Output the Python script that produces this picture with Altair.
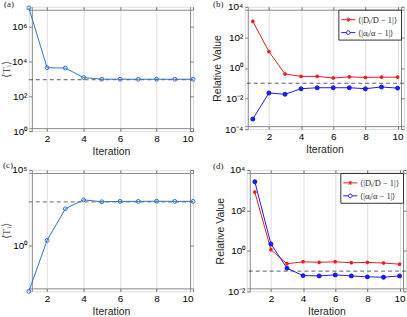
import altair as alt
import pandas as pd

# ---------------- data ----------------
iters = [1, 2, 3, 4, 5, 6, 7, 8, 9, 10]

a_T = [1.2e7, 4.4e3, 4.2e3, 1.2e3, 9.7e2, 9.6e2, 9.6e2, 9.6e2, 9.6e2, 9.6e2]
a_ref = [900]

b_D = [1100, 11.7, 0.40, 0.28, 0.28, 0.22, 0.26, 0.24, 0.25, 0.25]
b_alpha = [4.6e-4, 0.023, 0.019, 0.044, 0.051, 0.051, 0.051, 0.044, 0.057, 0.048]
b_ref = [0.1]

c_T = [1e-3, 2.3, 277, 1070, 800, 850, 850, 870, 850, 850]
c_ref = [780]

d_D = [800, 1.15, 0.23, 0.29, 0.27, 0.29, 0.26, 0.27, 0.25, 0.22]
d_alpha = [2600, 2.2, 0.14, 0.060, 0.058, 0.065, 0.058, 0.052, 0.050, 0.058]
d_ref = [0.1]

series_names = ["⟨|Dᵢ/D − 1|⟩", "⟨|αᵢ/α − 1|⟩"]
x_ticks = [2, 4, 6, 8, 10]

# ---------------- style ----------------
BLUE_A = "#3270cc"
RED = "#ee1c1c"
BLUE = "#1c1ce6"
FRAME = "#262626"
SANS = "Liberation Sans"
SERIF = "Liberation Serif"

STAR = "M-1,0L1,0M0,-1L0,1M-0.7,-0.7L0.7,0.7M-0.7,0.7L0.7,-0.7"
LEG_STAR = "M-1,0L1,0M-0.22,-0.22L0.22,0.22M-0.22,0.22L0.22,-0.22M0,-0.3L0,0.3"
LEG_CIRC = "M-1,0L-0.26,0M0.26,0L1,0M-0.26,0A0.26,0.26,0,1,1,0.26,0A0.26,0.26,0,1,1,-0.26,0"

SUP = "['⁻⁴','⁻³','⁻²','⁻¹','⁰','¹','²','³','⁴','⁵','⁶','⁷']"
LOG_LABEL = "'10' + " + SUP + "[round(log(datum.value)/LN10)+4]"

TICK = dict(ticks=True, tickSize=3, offset=-3, tickColor=FRAME, tickWidth=0.6)


def y_axis(title, values, title_font=SANS, title_color=FRAME, title_size=10.5, title_pad=2):
    return alt.Axis(title=title, values=values, labelExpr=LOG_LABEL,
                    titleFont=title_font, titleColor=title_color, titlePadding=title_pad,
                    titleFontSize=title_size, titleFontWeight="normal", **TICK)


def x_axis():
    return alt.Axis(title="Iteration", values=x_ticks, format="d",
                    titleFontWeight="normal", titleFont=SANS, titleFontSize=10.5,
                    titleColor=FRAME, titlePadding=3, **TICK)


def mirror_layer(base, yvals):
    return base.mark_point(opacity=0).encode(
        x=alt.X("iter:Q", axis=alt.Axis(orient="top", values=x_ticks, labels=False, title=None, **TICK)),
        y=alt.Y("val:Q", axis=alt.Axis(orient="right", values=yvals, labels=False, title=None, **TICK)),
    )


def letter_title(letter, dx, offset=-5):
    return alt.TitleParams(letter, anchor="start", frame="group", font=SERIF,
                           fontSize=9, fontWeight="normal", color=FRAME, offset=offset, dx=dx)


def single_panel(vals, ref, ydom, yvals, w, h, letter, dx, dash_color, dash_w):
    df = pd.DataFrame({"iter": iters, "val": vals})
    base = alt.Chart(df)
    x = alt.X("iter:Q", scale=alt.Scale(domain=[1, 10], nice=False, zero=False), axis=x_axis())
    y = alt.Y("val:Q", scale=alt.Scale(type="log", domain=ydom, nice=False),
              axis=y_axis("⟨Tᵢ⟩", yvals, title_font=SERIF, title_color="#555555",
                          title_size=11, title_pad=0))
    line = base.mark_line(color=BLUE_A, strokeWidth=1).encode(x=x, y=y)
    pts = base.mark_point(color=BLUE_A, size=15, strokeWidth=1, filled=False, opacity=1).encode(
        x=alt.X("iter:Q", axis=None), y=alt.Y("val:Q", axis=None))
    rule = alt.Chart(pd.DataFrame({"ref": ref})).mark_rule(
        color=dash_color, strokeDash=[4, 3], strokeWidth=dash_w).encode(y=alt.Y("ref:Q", axis=None))
    return alt.layer(rule, line, pts, mirror_layer(base, yvals)).resolve_axis(
        x="independent", y="independent").properties(width=w, height=h, title=letter_title(letter, dx))


def double_panel(d_vals, a_vals, ref, ydom, yvals, w, h, letter, dx, t_off):
    rows = []
    for i, v in zip(iters, d_vals):
        rows.append({"iter": i, "val": v, "series": series_names[0]})
    for i, v in zip(iters, a_vals):
        rows.append({"iter": i, "val": v, "series": series_names[1]})
    df = pd.DataFrame(rows)
    base = alt.Chart(df)
    x = alt.X("iter:Q", scale=alt.Scale(domain=[0.5, 10.4], nice=False, zero=False), axis=x_axis())
    y = alt.Y("val:Q", scale=alt.Scale(type="log", domain=ydom, nice=False),
              axis=y_axis("Relative Value", yvals))
    cscale = alt.Scale(domain=series_names, range=[RED, BLUE])
    line = base.mark_line(strokeWidth=1).encode(
        x=x, y=y, color=alt.Color("series:N", scale=cscale, legend=None))
    pts = base.mark_point(size=13, strokeWidth=1.3, filled=False, opacity=1).encode(
        x=alt.X("iter:Q", axis=None), y=alt.Y("val:Q", axis=None),
        color=alt.Color("series:N", scale=cscale, legend=None),
        fill=alt.Fill("series:N", scale=alt.Scale(domain=series_names, range=["transparent", BLUE]),
                      legend=None),
        shape=alt.Shape("series:N", scale=alt.Scale(domain=series_names, range=[STAR, "circle"]),
                        legend=None))
    legend = alt.Legend(
        title=None, orient="top-right", offset=3, padding=2, rowPadding=0,
        symbolSize=200, symbolStrokeWidth=1, labelFont=SERIF, labelFontSize=8.5,
        labelColor=FRAME, strokeColor="#333333", fillColor="white", labelOffset=2)
    leg = base.mark_point(filled=False, opacity=1, strokeWidth=1).encode(
        color=alt.Color("series:N", scale=cscale, legend=legend),
        shape=alt.Shape("series:N", scale=alt.Scale(domain=series_names, range=[LEG_STAR, LEG_CIRC]),
                        legend=legend),
    ).transform_filter("datum.iter > 100")
    rule = alt.Chart(pd.DataFrame({"ref": ref})).mark_rule(
        color="#333333", strokeDash=[4, 3], strokeWidth=0.8).encode(y=alt.Y("ref:Q", axis=None))
    return alt.layer(rule, line, pts, leg, mirror_layer(base, yvals)).resolve_scale(
        shape="independent", color="independent", fill="independent").resolve_axis(
        x="independent", y="independent").properties(
        width=w, height=h, title=letter_title(letter, dx, t_off))


pa = single_panel(a_T, a_ref, [1, 1.4e7], [1, 1e2, 1e4, 1e6], 165, 125, "(a)", -25, "#333333", 0.8)
pb = double_panel(b_D, b_alpha, b_ref, [1e-4, 1e4], [1e-4, 1e-2, 1, 1e2, 1e4], 160, 123, "(b)", -32, -7)
pc = single_panel(c_T, c_ref, [1e-3, 1e5], [1, 1e5], 165, 122, "(c)", -26, "#888888", 1.3)
pd_ = double_panel(d_D, d_alpha, d_ref, [1e-2, 1e4], [1e-2, 1, 1e2, 1e4], 160, 122, "(d)", -34, -6)

top = alt.hconcat(pa, pb, spacing=14)
bottom = alt.hconcat(pc, pd_, spacing=14)

chart = alt.vconcat(top, bottom, spacing=3).properties(
    padding={"left": 0, "top": -2, "right": 0, "bottom": 0}
).configure_view(
    stroke=FRAME, strokeWidth=0.8
).configure_axis(
    labelFont=SANS, labelFontSize=9, labelColor=FRAME, domain=False,
    grid=False, labelPadding=2
).configure_title(
    fontWeight="normal"
).configure(background="white")

chart.save("out.html", embed_options={"renderer": "svg", "actions": False})
